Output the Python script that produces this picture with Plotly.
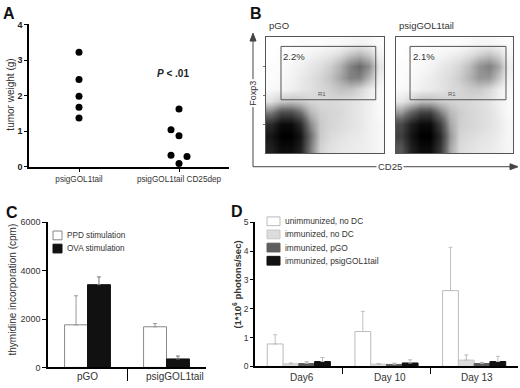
import plotly.graph_objects as go

W, H = 520, 388


def px(x):
    return x / W


def py(y):
    return 1 - y / H


FONT = "Liberation Sans, Arial, sans-serif"
TXT = "#333333"

# ---------------- data ----------------
# Panel A
A_GROUPS = ["psigGOL1tail", "psigGOL1tail CD25dep"]
A_VALUES_1 = [3.22, 2.45, 1.98, 1.67, 1.37]
A_VALUES_2 = [1.62, 1.04, 0.87, 0.32, 0.29, 0.09]
A_TICKS = [0, 1, 2, 3, 4]

# Panel B (flow cytometry, density, rows bottom->top)
B_TITLES = ["pGO", "psigGOL1tail"]
B_PERCENT = ["2.2%", "2.1%"]
B_DENS_1 = [
    [0.85, 0.95, 0.95, 0.85, 0.45, 0.15, 0.10, 0.08, 0.07, 0.06, 0.05, 0.03],
    [0.90, 1.00, 1.00, 0.90, 0.50, 0.18, 0.12, 0.10, 0.08, 0.07, 0.05, 0.03],
    [0.80, 0.95, 0.95, 0.80, 0.40, 0.18, 0.14, 0.12, 0.10, 0.08, 0.05, 0.03],
    [0.45, 0.65, 0.65, 0.50, 0.25, 0.16, 0.14, 0.13, 0.10, 0.08, 0.05, 0.02],
    [0.10, 0.18, 0.20, 0.18, 0.14, 0.13, 0.13, 0.12, 0.10, 0.08, 0.05, 0.02],
    [0.02, 0.03, 0.05, 0.08, 0.10, 0.13, 0.16, 0.20, 0.20, 0.14, 0.07, 0.02],
    [0.01, 0.02, 0.04, 0.07, 0.10, 0.14, 0.20, 0.30, 0.42, 0.42, 0.25, 0.05],
    [0.01, 0.01, 0.03, 0.05, 0.08, 0.11, 0.16, 0.26, 0.42, 0.50, 0.38, 0.08],
    [0.00, 0.01, 0.01, 0.02, 0.04, 0.06, 0.08, 0.12, 0.20, 0.25, 0.18, 0.04],
    [0.00, 0.00, 0.00, 0.01, 0.01, 0.01, 0.02, 0.02, 0.03, 0.04, 0.03, 0.01],
]
B_DENS_2 = [
    [0.60, 0.85, 0.95, 0.95, 0.75, 0.30, 0.12, 0.10, 0.08, 0.07, 0.05, 0.03],
    [0.70, 0.90, 1.00, 1.00, 0.80, 0.35, 0.14, 0.12, 0.10, 0.08, 0.06, 0.03],
    [0.65, 0.85, 0.95, 0.95, 0.70, 0.30, 0.16, 0.14, 0.12, 0.10, 0.07, 0.03],
    [0.35, 0.55, 0.70, 0.70, 0.45, 0.24, 0.17, 0.14, 0.12, 0.10, 0.06, 0.02],
    [0.08, 0.15, 0.22, 0.22, 0.18, 0.15, 0.14, 0.13, 0.11, 0.09, 0.05, 0.02],
    [0.02, 0.03, 0.05, 0.07, 0.09, 0.12, 0.14, 0.17, 0.18, 0.13, 0.06, 0.02],
    [0.01, 0.02, 0.04, 0.06, 0.09, 0.12, 0.17, 0.25, 0.35, 0.35, 0.20, 0.04],
    [0.01, 0.01, 0.02, 0.04, 0.07, 0.10, 0.14, 0.22, 0.36, 0.42, 0.30, 0.06],
    [0.00, 0.01, 0.01, 0.02, 0.03, 0.05, 0.07, 0.10, 0.16, 0.20, 0.14, 0.03],
    [0.00, 0.00, 0.00, 0.01, 0.01, 0.01, 0.01, 0.02, 0.03, 0.03, 0.02, 0.01],
]

# Panel C
C_GROUPS = ["pGO", "psigGOL1tail"]
C_SERIES = ["PPD stimulation", "OVA stimulation"]
C_PPD = [1760, 1680]
C_PPD_ERR = [1200, 130]
C_OVA = [3420, 350]
C_OVA_ERR = [320, 120]
C_TICKS = [0, 2000, 4000, 6000]

# Panel D
D_DAYS = ["Day6", "Day 10", "Day 13"]
D_SERIES = ["unimmunized, no DC", "immunized, no DC", "immunized, pGO",
            "immunized, psigGOL1tail"]
D_UNIMM = [0.78, 1.21, 2.63]
D_UNIMM_ERR = [0.32, 0.70, 1.50]
D_IMM_NODC = [0.09, 0.08, 0.22]
D_IMM_NODC_ERR = [0.03, 0.02, 0.18]
D_IMM_PGO = [0.10, 0.07, 0.10]
D_IMM_PGO_ERR = [0.06, 0.04, 0.04]
D_IMM_PSIG = [0.17, 0.12, 0.17]
D_IMM_PSIG_ERR = [0.14, 0.11, 0.18]
D_TICKS = [0, 1, 2, 3, 4, 5]

# ---------------- styles ----------------
JITTER_A2 = [0, -0.08, 0, -0.08, 0.08, 0]
C_FILL = ["#ffffff", "#111111"]
C_LINE = ["#888888", "#111111"]
C_ERRC = ["#999999", "#777777"]
C_OFFS = [-0.29, 0.0]
C_W = 0.29
C_LABEL_SHIFT = [0, 8]
D_FILL = ["#ffffff", "#dcdcdc", "#5e5e5e", "#111111"]
D_LINE = ["#bbbbbb", "#c8c8c8", "#5e5e5e", "#111111"]
D_ERRC = ["#c0c0c0", "#bbbbbb", "#aaaaaa", "#bbbbbb"]
D_OFFS = [-0.36, -0.18, 0.0, 0.18]
D_W = 0.18

fig = go.Figure()

# ---------- Panel A ----------
fig.add_trace(go.Scatter(
    x=[0] * len(A_VALUES_1), y=A_VALUES_1, mode="markers",
    marker=dict(color="black", size=7), xaxis="x", yaxis="y",
    showlegend=False, cliponaxis=False))
fig.add_trace(go.Scatter(
    x=[1 + j for j in JITTER_A2], y=A_VALUES_2, mode="markers",
    marker=dict(color="black", size=7), xaxis="x", yaxis="y",
    showlegend=False, cliponaxis=False))

# ---------- Panel B ----------
for i, dens in enumerate([B_DENS_1, B_DENS_2]):
    ax = "x%d" % (i + 2)
    ay = "y%d" % (i + 2)
    fig.add_trace(go.Heatmap(
        z=dens, x0=1 / 24, dx=1 / 12, y0=0.05, dy=0.1,
        colorscale=[[0, "#ffffff"], [0.5, "#6a6a6a"], [1, "#000000"]],
        zmin=0, zmax=1, zsmooth="best", showscale=False,
        xaxis=ax, yaxis=ay, hoverinfo="skip"))

# ---------- Panel C ----------
C_VALS = [C_PPD, C_OVA]
C_ERRS = [C_PPD_ERR, C_OVA_ERR]
for k, name in enumerate(C_SERIES):
    fig.add_trace(go.Bar(
        x=list(range(len(C_GROUPS))), y=C_VALS[k], name=name,
        width=C_W, offset=C_OFFS[k],
        marker=dict(color=C_FILL[k], line=dict(color=C_LINE[k], width=1)),
        error_y=dict(type="data", array=C_ERRS[k],
                     arrayminus=[0] * len(C_GROUPS), symmetric=False,
                     color=C_ERRC[k], thickness=1, width=2),
        xaxis="x4", yaxis="y4", showlegend=False))

# ---------- Panel D ----------
D_VALS = [D_UNIMM, D_IMM_NODC, D_IMM_PGO, D_IMM_PSIG]
D_ERRS = [D_UNIMM_ERR, D_IMM_NODC_ERR, D_IMM_PGO_ERR, D_IMM_PSIG_ERR]
for k, name in enumerate(D_SERIES):
    fig.add_trace(go.Bar(
        x=list(range(len(D_DAYS))), y=D_VALS[k], name=name,
        width=D_W, offset=D_OFFS[k],
        marker=dict(color=D_FILL[k], line=dict(color=D_LINE[k], width=1)),
        error_y=dict(type="data", array=D_ERRS[k],
                     arrayminus=[0] * len(D_DAYS), symmetric=False,
                     color=D_ERRC[k], thickness=1, width=2),
        xaxis="x5", yaxis="y5", showlegend=False))

tickf = dict(family=FONT, size=9, color=TXT)
axline = dict(showline=True, linecolor="black", linewidth=1.5,
              showgrid=False, zeroline=False)

layout = dict(
    width=W, height=388, autosize=False,
    margin=dict(l=0, r=0, t=0, b=0),
    paper_bgcolor="white", plot_bgcolor="white",
    font=dict(family=FONT, color=TXT),
    barmode="overlay",
    # A
    xaxis=dict(domain=[px(29), px(229)], range=[-0.5, 1.5], anchor="y",
               tickvals=[0, 1], ticktext=A_GROUPS, ticks="outside",
               ticklen=4, tickcolor="black",
               tickfont=dict(family=FONT, size=8.2, color=TXT), **axline),
    yaxis=dict(domain=[py(166), py(20)], range=[0, 4], anchor="x",
               tickvals=A_TICKS, ticks="outside", ticklen=3,
               tickcolor="black",
               tickfont=dict(family=FONT, size=9, color="#222",
                             weight="bold"), **axline),
    # B
    xaxis2=dict(domain=[px(266), px(384)], range=[0, 1], anchor="y2",
                showline=True, mirror=True, linecolor="#555", linewidth=1,
                showgrid=False, zeroline=False, showticklabels=False,
                ticks=""),
    yaxis2=dict(domain=[py(152), py(33)], range=[0, 1], anchor="x2",
                showline=True, mirror=True, linecolor="#555", linewidth=1,
                showgrid=False, zeroline=False, showticklabels=False,
                ticks="outside", ticklen=2, tickcolor="#777",
                tickvals=[0.25, 0.5, 0.75]),
    xaxis3=dict(domain=[px(396), px(513)], range=[0, 1], anchor="y3",
                showline=True, mirror=True, linecolor="#555", linewidth=1,
                showgrid=False, zeroline=False, showticklabels=False,
                ticks=""),
    yaxis3=dict(domain=[py(152), py(33)], range=[0, 1], anchor="x3",
                showline=True, mirror=True, linecolor="#555", linewidth=1,
                showgrid=False, zeroline=False, showticklabels=False,
                ticks=""),
    # C
    xaxis4=dict(domain=[px(48), px(206)], range=[-0.5, 1.5], anchor="y4",
                tickvals=[0.5], showticklabels=False, ticks="outside",
                ticklen=12, tickcolor="black", tickwidth=1.2, **axline),
    yaxis4=dict(domain=[py(372), py(223)], range=[0, 6000], anchor="x4",
                tickvals=C_TICKS, ticks="outside", ticklen=4,
                tickcolor="black", tickfont=tickf, **axline),
    # D
    xaxis5=dict(domain=[px(255), px(518)], range=[-0.5, 2.5], anchor="y5",
                tickvals=[0.5, 1.5], showticklabels=False, ticks="outside",
                ticklen=6, tickcolor="black", **axline),
    yaxis5=dict(domain=[py(371), py(223)], range=[0, 5], anchor="x5",
                tickvals=D_TICKS, ticks="outside", ticklen=3,
                tickcolor="black",
                tickfont=dict(family=FONT, size=8.5, color=TXT), **axline),
)
fig.update_layout(**layout)

ann = []
shapes = []


def txt(x, y, s, size=9, xanchor="center", angle=0, bold=False, bg=None,
        color=TXT):
    d = dict(x=px(x), y=py(y), xref="paper", yref="paper", text=s,
             showarrow=False, xanchor=xanchor, yanchor="middle",
             textangle=angle,
             font=dict(family=FONT, size=size, color=color,
                       weight="bold" if bold else "normal"))
    if bg:
        d["bgcolor"] = bg
        d["borderpad"] = 1
    ann.append(d)


# panel letters
txt(9, 9, "A", size=16, bold=True, color="#111")
txt(256, 9, "B", size=16, bold=True, color="#111")
txt(12, 213, "C", size=16, bold=True, color="#111")
txt(237, 212, "D", size=16, bold=True, color="#111")

# A texts
txt(11, 92, "tumor weight (g)", size=10, angle=-90)
txt(173, 70, "<i>P</i> < .01", size=10, bold=True, color="#222")

# B texts
txt(267, 21, B_TITLES[0], size=9.5, xanchor="left")
txt(397, 21, B_TITLES[1], size=9.5, xanchor="left")
txt(281, 53, B_PERCENT[0], size=9.5, xanchor="left")
txt(411, 53, B_PERCENT[1], size=9.5, xanchor="left")
txt(322, 91, "R1", size=6, color="#555")
txt(452, 91, "R1", size=6, color="#555")

# axis arrows (lines + arrow heads)
ARC = "#444"
shapes.append(dict(type="line", xref="paper", yref="paper",
                   x0=px(253), x1=px(253), y0=py(166), y1=py(34),
                   line=dict(color=ARC, width=1)))
shapes.append(dict(type="line", xref="paper", yref="paper",
                   x0=px(253), x1=px(513), y0=py(166), y1=py(166),
                   line=dict(color=ARC, width=1)))
shapes.append(dict(type="path", xref="paper", yref="paper",
                   path="M %f %f L %f %f L %f %f Z" % (
                       px(250), py(37), px(253), py(29), px(256), py(37)),
                   fillcolor=ARC, line=dict(color=ARC, width=1)))
shapes.append(dict(type="path", xref="paper", yref="paper",
                   path="M %f %f L %f %f L %f %f Z" % (
                       px(510), py(163), px(518), py(166), px(510), py(169)),
                   fillcolor=ARC, line=dict(color=ARC, width=1)))
txt(253, 91, "Foxp3", size=9, angle=-90, bg="white")
txt(390, 166, "CD25", size=9.5, bg="white")

# gates
for ax_, ay_, x0, x1 in [("x2", "y2", 0.127, 0.93), ("x3", "y3", 0.12, 0.94)]:
    shapes.append(dict(type="rect", xref=ax_, yref=ay_, x0=x0, x1=x1,
                       y0=0.46, y1=0.92, line=dict(color="#555", width=1),
                       fillcolor="rgba(0,0,0,0)"))

# C texts
txt(12, 292, "thymidine incorporation (cpm)", size=10, angle=-90)
for i, g in enumerate(C_GROUPS):
    ann.append(dict(x=i, y=py(381), xref="x4", yref="paper", text=g,
                    showarrow=False, yanchor="middle",
                    xshift=C_LABEL_SHIFT[i],
                    font=dict(family=FONT, size=10, color=TXT)))
for k, name in enumerate(C_SERIES):
    yc = 236.5 + 13.5 * k
    shapes.append(dict(type="rect", xref="paper", yref="paper",
                       x0=px(53), x1=px(62), y0=py(yc - 4.5), y1=py(yc + 4.5),
                       fillcolor=C_FILL[k], line=dict(color=C_LINE[k],
                                                      width=1)))
    txt(65, yc, name, size=8.2, xanchor="left")

# D texts
txt(237, 287, "(1*10<sup>6</sup> photons/sec)", size=9.5, angle=-90,
    bold=True)
for i, d in enumerate(D_DAYS):
    ann.append(dict(x=i, y=py(382), xref="x5", yref="paper", text=d,
                    showarrow=False, yanchor="middle", xshift=3,
                    font=dict(family=FONT, size=10, color=TXT)))
for k, name in enumerate(D_SERIES):
    yc = 222 + 13.5 * k
    shapes.append(dict(type="rect", xref="paper", yref="paper",
                       x0=px(267), x1=px(280), y0=py(yc - 4.5),
                       y1=py(yc + 4.5), fillcolor=D_FILL[k],
                       line=dict(color=D_LINE[k], width=1)))
    txt(283, yc, name, size=8.4, xanchor="left")

fig.update_layout(annotations=ann, shapes=shapes)
fig.write_html("out.html", config={"displayModeBar": False},
               post_script="document.body.style.margin='0';"
                           "document.body.style.overflow='hidden';")
